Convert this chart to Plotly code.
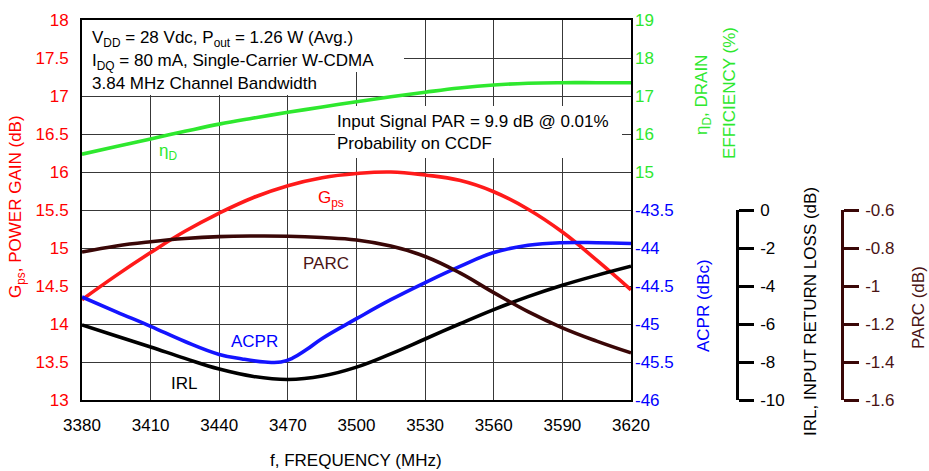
import plotly.graph_objects as go

# ---------------- data ----------------
freq = [3380, 3395, 3410, 3425, 3440, 3455, 3470, 3485, 3500, 3515,
        3530, 3545, 3560, 3575, 3590, 3605, 3620]
gain = [14.32, 14.64, 14.94, 15.22, 15.46, 15.665, 15.82, 15.925, 15.98, 16.00,
        15.96, 15.89, 15.74, 15.51, 15.21, 14.84, 14.45]
eff = [15.47, 15.67, 15.87, 16.07, 16.26, 16.42, 16.57, 16.71, 16.85, 16.98,
       17.10, 17.21, 17.29, 17.335, 17.35, 17.35, 17.35]
irl = [-6.05, -6.63, -7.21, -7.81, -8.37, -8.76, -8.92, -8.74, -8.27, -7.57,
       -6.79, -6.00, -5.24, -4.56, -3.96, -3.44, -2.96]
parc = [-0.821, -0.789, -0.767, -0.750, -0.740, -0.737, -0.738, -0.745, -0.758, -0.790,
        -0.845, -0.930, -1.035, -1.135, -1.220, -1.290, -1.352]
acpr_freq = [3380, 3395, 3410, 3425, 3440, 3450, 3460, 3467, 3472, 3478,
             3485, 3500, 3515, 3530, 3545, 3560, 3575, 3590, 3605, 3620]
acpr = [-44.645, -44.84, -45.03, -45.23, -45.40, -45.46, -45.50, -45.50, -45.45, -45.34,
        -45.19, -44.93, -44.68, -44.455, -44.245, -44.06, -43.965, -43.93, -43.93, -43.94]

x_ticks = [3380, 3410, 3440, 3470, 3500, 3530, 3560, 3590, 3620]
gain_ticks = [13, 13.5, 14, 14.5, 15, 15.5, 16, 16.5, 17, 17.5, 18]
eff_ticks = [15, 16, 17, 18, 19]
acpr_ticks = [-46, -45.5, -45, -44.5, -44, -43.5]
acpr_text = ["-46", "-45.5", "-45", "-44.5", "-44", "-43.5"]
irl_ticks = [0, -2, -4, -6, -8, -10]
irl_text = ["0", "-2", "-4", "-6", "-8", "-10"]
parc_ticks = [-0.6, -0.8, -1.0, -1.2, -1.4, -1.6]
parc_text = ["-0.6", "-0.8", "-1", "-1.2", "-1.4", "-1.6"]

# ---------------- geometry / style ----------------
W, H = 929, 471
ML, MR, MT, MB = 82, 10, 20, 71
PW = W - ML - MR
PH = H - MT - MB


def px(xp):
    return (xp - ML) / PW


def py(yp):
    return (H - MB - yp) / PH


def fx(xp):
    return 3380 + (xp - 82) * 240 / 549


def fy(yp):
    return 18 - (yp - 20) / 76


XEND = px(631)
FONT = "Liberation Sans, Arial, Helvetica, sans-serif"
FS = 17
RED = "#ff1a1a"
GREEN = "#2ee82e"
BLUE = "#1414ff"
BROWN = "#3a0707"
BROWN_T = "#4a1414"
GRID = "#383838"
LW = 3.6
SM = 1.2

fig = go.Figure()
fig.add_trace(go.Scatter(x=freq, y=eff, yaxis="y2", mode="lines",
                         line=dict(color=GREEN, width=LW, shape="spline", smoothing=SM)))
fig.add_trace(go.Scatter(x=freq, y=gain, yaxis="y", mode="lines",
                         line=dict(color=RED, width=LW, shape="spline", smoothing=SM)))
fig.add_trace(go.Scatter(x=acpr_freq, y=acpr, yaxis="y3", mode="lines",
                         line=dict(color=BLUE, width=LW, shape="spline", smoothing=SM)))
fig.add_trace(go.Scatter(x=freq, y=irl, xaxis="x2", yaxis="y4", mode="lines",
                         line=dict(color="black", width=LW, shape="spline", smoothing=SM)))
fig.add_trace(go.Scatter(x=freq, y=parc, xaxis="x2", yaxis="y5", mode="lines",
                         line=dict(color=BROWN, width=LW, shape="spline", smoothing=SM)))

tf = lambda c: dict(family=FONT, size=FS, color=c)

fig.update_layout(
    width=W, height=H,
    margin=dict(l=ML, r=MR, t=MT, b=MB, pad=0, autoexpand=False),
    paper_bgcolor="white", plot_bgcolor="rgba(0,0,0,0)",
    showlegend=False,
    font=dict(family=FONT, size=FS, color="black"),
    xaxis=dict(domain=[0, XEND], range=[3380, 3620], tickvals=x_ticks,
               showgrid=True, gridcolor=GRID, gridwidth=1.3, zeroline=False,
               showline=True, linecolor="black", linewidth=2, mirror=True,
               ticks="", tickfont=tf("black"), ticklabelstandoff=9, automargin=False),
    yaxis=dict(range=[13, 18], tickvals=gain_ticks,
               showgrid=True, gridcolor=GRID, gridwidth=1.3, zeroline=False,
               showline=True, linecolor="black", linewidth=2, mirror=True,
               ticks="", tickfont=tf("#ff0000"), ticklabelstandoff=8, automargin=False),
    yaxis2=dict(overlaying="y", side="right", anchor="x", range=[9, 19],
                tickvals=eff_ticks, showgrid=False, zeroline=False, showline=False,
                ticks="", tickfont=tf(GREEN), ticklabelstandoff=3, automargin=False),
    yaxis3=dict(overlaying="y", side="right", anchor="x", range=[-46, -41],
                tickvals=acpr_ticks, ticktext=acpr_text, showgrid=False,
                zeroline=False, showline=False, ticks="",
                tickfont=tf("#0000ff"), ticklabelstandoff=3, automargin=False),
    xaxis2=dict(domain=[0, XEND], range=[3380, 3620], visible=False,
                showgrid=False, anchor="y4", automargin=False),
    yaxis4=dict(domain=[0, py(210)], range=[-10, 0], anchor="free",
                position=px(737), side="right", tickvals=irl_ticks, ticktext=irl_text,
                showgrid=False, zeroline=False, showline=True, linecolor="black",
                linewidth=2.5, ticks="outside", ticklen=15, tickwidth=2.5,
                tickcolor="black", tickfont=tf("black"), ticklabelstandoff=3,
                automargin=False),
    yaxis5=dict(overlaying="y4", range=[-1.6, -0.6], anchor="free",
                position=px(842), side="right", tickvals=parc_ticks, ticktext=parc_text,
                showgrid=False, zeroline=False, showline=True, linecolor=BROWN,
                linewidth=2.5, ticks="outside", ticklen=15, tickwidth=2.5,
                tickcolor=BROWN, tickfont=tf(BROWN_T), ticklabelstandoff=3,
                automargin=False),
)

# white boxes behind the condition text (cover grid, not curves)
for (x0, y0, x1, y1) in [(82, 20, 368, 50), (82, 50, 404, 72), (82, 72, 327, 95),
                         (335, 106, 622, 158)]:
    fig.add_shape(type="rect", xref="x", yref="y", x0=fx(x0), x1=fx(x1),
                  y0=fy(y1), y1=fy(y0), fillcolor="white", line=dict(width=0),
                  layer="between")


def ann(text, xp, yp, color="black", angle=0, xanchor="center", align="center"):
    fig.add_annotation(text=text, xref="paper", yref="paper", x=px(xp), y=py(yp),
                       xanchor=xanchor, yanchor="middle", showarrow=False,
                       textangle=angle, align=align, font=tf(color), borderpad=0)


# axis titles
ann("G<sub>ps</sub>, POWER GAIN (dB)", 17, 207, "#ff0000", -90)
ann("η<sub>D</sub>, DRAIN", 703, 95, GREEN, -90)
ann("EFFICIENCY (%)", 729, 93, GREEN, -90)
ann("ACPR (dBc)", 703, 306, "#0000ff", -90)
ann("IRL, INPUT RETURN LOSS (dB)", 810, 312, "black", -90)
ann("PARC (dB)", 918, 308, BROWN_T, -90)
ann("f, FREQUENCY (MHz)", 356, 460, "black")

# condition text
ann("V<sub>DD</sub> = 28 Vdc, P<sub>out</sub> = 1.26 W (Avg.)", 91, 39, xanchor="left")
ann("I<sub>DQ</sub> = 80 mA, Single-Carrier W-CDMA", 91, 62, xanchor="left")
ann("3.84 MHz Channel Bandwidth", 91, 84, xanchor="left")
ann("Input Signal PAR = 9.9 dB @ 0.01%<br>Probability on CCDF", 336, 132,
    xanchor="left", align="left")

# curve labels
ann("η<sub>D</sub>", 168, 152, GREEN)
ann("G<sub>ps</sub>", 331, 199, "#ff0000")
ann("PARC", 326, 263, BROWN_T)
ann("ACPR", 254, 341, "#0000ff")
ann("IRL", 184, 383, "black")

fig.write_html("out.html", config={"displayModeBar": False},
               post_script="document.body.style.margin='0px';document.body.style.padding='0px';")
